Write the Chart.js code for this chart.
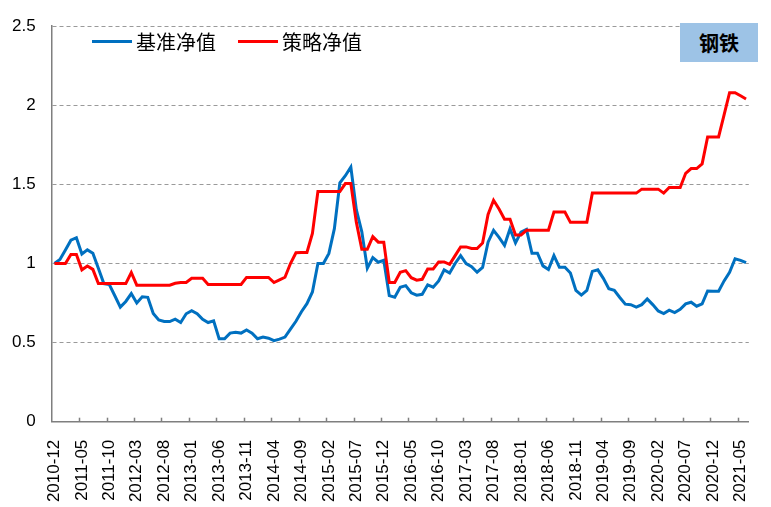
<!DOCTYPE html>
<html>
<head>
<meta charset="utf-8">
<script src="https://cdn.jsdelivr.net/npm/chart.js@4.4.1/dist/chart.umd.min.js"></script>
<style>
  body { margin: 0; background: #fff; }
  #wrap { position: relative; width: 771px; height: 507px; }
  #legenda { position: absolute; left: 92px; top: 29px; height: 25px; display: flex; align-items: center;
             font-family: "Noto Sans CJK SC"; font-size: 20px; color: #000; white-space: nowrap; }
  .item { display: flex; align-items: center; margin-right: 22px; }
  .linha { width: 40px; height: 3px; margin-right: 4px; }
  #setor { position: absolute; left: 680px; top: 23px; width: 78px; height: 39px; background: #9dc3e6;
           font-family: "Noto Sans CJK SC"; font-weight: bold; font-size: 20px; line-height: 39px;
           text-align: center; color: #000; }
</style>
</head>
<body>
<div id="wrap">
  <canvas id="grafico" width="771" height="507"></canvas>
  <div id="legenda"></div>
  <div id="setor">钢铁</div>
</div>
<script>
// meses de 2010-12 ate 2021-06
var meses = [];
var ano = 2010, mes = 12;
for (var i = 0; i < 127; i++) {
  meses.push(ano + "-" + (mes < 10 ? "0" + mes : mes));
  mes++;
  if (mes > 12) { mes = 1; ano++; }
}

var baseNames = ["基准净值", "策略净值"];

var benchmark = [
  1.00, 1.025, 1.086, 1.147, 1.163, 1.06, 1.086, 1.065, 0.97, 0.873,
  0.867, 0.796, 0.724, 0.76, 0.81, 0.75, 0.79, 0.786, 0.684, 0.643,
  0.633, 0.633, 0.648, 0.627, 0.682, 0.702, 0.682, 0.647, 0.627, 0.637,
  0.524, 0.524, 0.56, 0.565, 0.56, 0.58, 0.56, 0.524, 0.535, 0.528,
  0.512, 0.522, 0.535, 0.585, 0.635, 0.695, 0.746, 0.82, 1.0, 1.0,
  1.064, 1.22, 1.51, 1.555, 1.61, 1.34, 1.2, 0.97, 1.037, 1.008,
  1.02, 0.797, 0.787, 0.85, 0.86, 0.815, 0.80, 0.805, 0.865, 0.85,
  0.89, 0.96, 0.94, 1.0, 1.05, 1.0, 0.98, 0.945, 0.975, 1.135,
  1.21, 1.165, 1.115, 1.22, 1.13, 1.198, 1.215, 1.065, 1.065, 0.985,
  0.962, 1.05, 0.976, 0.976, 0.94, 0.83, 0.80, 0.83, 0.95, 0.96,
  0.906, 0.84, 0.83, 0.785, 0.743, 0.74, 0.725, 0.74, 0.776, 0.74,
  0.70, 0.684, 0.705, 0.69, 0.71, 0.745, 0.755, 0.73, 0.745, 0.826,
  0.825, 0.825, 0.89, 0.945, 1.03, 1.02, 1.005
];

var strategy = [
  1.0, 1.0, 1.0, 1.057, 1.057, 0.96, 0.984, 0.963, 0.873, 0.873,
  0.873, 0.873, 0.873, 0.873, 0.943, 0.863, 0.863, 0.863, 0.863, 0.863,
  0.863, 0.863, 0.875, 0.88, 0.88, 0.906, 0.906, 0.906, 0.867, 0.867,
  0.867, 0.867, 0.867, 0.867, 0.867, 0.912, 0.912, 0.912, 0.912, 0.912,
  0.88, 0.897, 0.913, 1.0, 1.068, 1.07, 1.07, 1.19, 1.455, 1.455,
  1.455, 1.455, 1.455, 1.505, 1.505, 1.26, 1.09, 1.09, 1.17, 1.135,
  1.135, 0.88, 0.88, 0.945, 0.955, 0.91, 0.895, 0.90, 0.965, 0.965,
  1.01, 1.01, 0.995, 1.05, 1.105, 1.105, 1.095, 1.095, 1.13, 1.31,
  1.40, 1.345, 1.28, 1.28, 1.18, 1.18, 1.21, 1.21, 1.21, 1.21,
  1.21, 1.325, 1.325, 1.325, 1.26, 1.26, 1.26, 1.26, 1.445, 1.445,
  1.445, 1.445, 1.445, 1.445, 1.445, 1.445, 1.445, 1.47, 1.47, 1.47,
  1.47, 1.445, 1.48, 1.48, 1.48, 1.57, 1.60, 1.60, 1.63, 1.80,
  1.80, 1.80, 1.94, 2.08, 2.08, 2.06, 2.04
];

var yTicks = [0, 0.5, 1, 1.5, 2, 2.5];

// marcas do eixo x (para dentro, a cada 5 meses)
var marcasEixo = {
  id: "marcasEixo",
  afterDraw: function (chart) {
    var x = chart.scales.x;
    var ctx = chart.ctx;
    var passo = x.width / meses.length;
    ctx.save();
    ctx.strokeStyle = "#7f7f7f";
    ctx.lineWidth = 1.5;
    for (var i = 5; i < meses.length; i += 5) {
      var px = Math.round(x.getPixelForValue(i) - passo / 2) + 0.5;
      ctx.beginPath();
      ctx.moveTo(px, x.top);
      ctx.lineTo(px, x.top - 4);
      ctx.stroke();
    }
    ctx.restore();
  }
};

var data = {
  labels: meses,
  datasets: [
    {
      label: baseNames[0],
      data: benchmark,
      borderColor: "#0070c0",
      backgroundColor: "#0070c0",
      borderWidth: 3,
      pointRadius: 0,
      tension: 0,
      order: 1
    },
    {
      label: baseNames[1],
      data: strategy,
      borderColor: "#ff0000",
      backgroundColor: "#ff0000",
      borderWidth: 3,
      pointRadius: 0,
      tension: 0,
      order: 0
    }
  ]
};

var config = {
  type: "line",
  data: data,
  options: {
    responsive: false,
    animation: false,
    devicePixelRatio: 1,
    layout: { padding: { top: 15, right: 4, left: 0, bottom: 0 } },
    plugins: { legend: { display: false }, tooltip: { enabled: false } },
    scales: {
      x: {
        type: "category",
        offset: true,
        grid: { display: false },
        border: { color: "#7f7f7f", width: 1.5 },
        ticks: {
          autoSkip: false,
          maxRotation: 90,
          minRotation: 90,
          padding: 10,
          color: "#000",
          font: { family: "'Liberation Sans', Arial", size: 17 },
          callback: function (val, idx) {
            return idx % 5 === 0 ? this.getLabelForValue(val) : null;
          }
        },
        afterFit: function (scale) { scale.height = 85.3; }
      },
      y: {
        min: yTicks[0],
        max: yTicks[yTicks.length - 1],
        afterBuildTicks: function (scale) {
          scale.ticks = yTicks.map(function (v) { return { value: v }; });
        },
        grid: { color: "#9a9a9a", lineWidth: 1, drawTicks: false },
        border: { color: "#7f7f7f", width: 1.5, dash: [4, 3] },
        ticks: {
          padding: 16,
          color: "#000",
          font: { family: "'Liberation Sans', Arial", size: 17 },
          callback: function (v) { return String(v); }
        },
        afterFit: function (scale) { scale.width = 51.7; }
      }
    }
  },
  plugins: [marcasEixo]
};

const myChart = new Chart(document.getElementById("grafico"), config);

// legenda em html
var leg = "";
data.datasets.forEach(function (ds) {
  leg +=
    "<div class='item'>" +
    "<div class='linha' style='background:" + ds.borderColor + "'></div>" +
    "<span>" + ds.label + "</span>" +
    "</div>";
});
document.getElementById("legenda").innerHTML = leg;
</script>
</body>
</html>
